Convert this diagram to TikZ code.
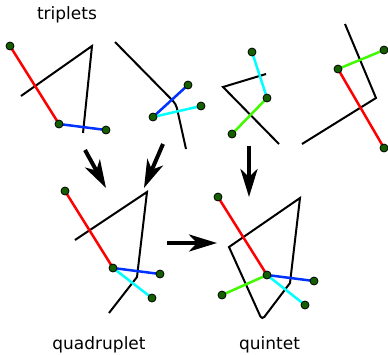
\documentclass[tikz,border=0pt]{standalone}
\usepackage{fontspec}
\setmainfont{DejaVu Sans}
\usetikzlibrary{arrows.meta}
\definecolor{cred}{RGB}{255,0,0}
\definecolor{cblue}{RGB}{0,50,255}
\definecolor{ccyan}{RGB}{0,255,255}
\definecolor{cgreen}{RGB}{64,250,0}
\definecolor{cdot}{RGB}{20,95,0}
\tikzset{
  frame/.style={draw=black, line width=2pt},
  bond/.style={line width=2.5pt},
  dot/.style={circle, draw=black, line width=0.8pt, fill=cdot, minimum size=8pt, inner sep=0pt},
  bigarrow/.style={line width=4pt, -{Stealth[length=28pt,width=17pt,inset=8pt]}},
  lbl/.style={font=\fontsize{17}{20}\selectfont, anchor=base}
}
\begin{document}
\begin{tikzpicture}[x=1pt,y=-1pt]
\useasboundingbox (0,0) rectangle (388,354);
% points
\coordinate (a) at (10,46);
\coordinate (b) at (59,124);
\coordinate (c) at (106,130);
\coordinate (d) at (153,117);
\coordinate (e) at (188,85);
\coordinate (f) at (201,106);
\coordinate (g) at (252,52);
\coordinate (h) at (267,98);
\coordinate (i) at (232,134);
\coordinate (j) at (338,69);
\coordinate (k) at (384,50);
\coordinate (l) at (384,148);
\coordinate (m) at (65,191);
\coordinate (n) at (113,268);
\coordinate (o) at (160,274);
\coordinate (p) at (152,298);
\coordinate (q) at (218,197);
\coordinate (r) at (267,275);
\coordinate (s) at (314,281);
\coordinate (t) at (305,305);
\coordinate (u) at (222,295);
% frames
\draw[frame] (21,96) -- (92,46) -- (83,133);
\draw[frame] (115,42) [rounded corners=4pt] -- (176,104) -- (186,149);
\draw[frame] (266,74) -- (223,87) -- (279,144);
\draw[frame] (345,24) -- (376,98) -- (302,144);
\draw[frame] (75,240) -- (147,192) -- (137,277) [rounded corners=4pt] -- (109,313);
\draw[frame] (229,247) -- (300,198) -- (290,283) [rounded corners=4pt] -- (262,320) [sharp corners] -- cycle;
% bonds
\draw[bond, cred] (a) -- (b);
\draw[bond, cblue] (b) -- (c);
\draw[bond, cblue] (d) -- (e);
\draw[bond, ccyan] (d) -- (f);
\draw[bond, ccyan] (g) -- (h);
\draw[bond, cgreen] (h) -- (i);
\draw[bond, cgreen] (j) -- (k);
\draw[bond, cred] (j) -- (l);
\draw[bond, cred] (m) -- (n);
\draw[bond, cblue] (n) -- (o);
\draw[bond, ccyan] (n) -- (p);
\draw[bond, cred] (q) -- (r);
\draw[bond, cblue] (r) -- (s);
\draw[bond, ccyan] (r) -- (t);
\draw[bond, cgreen] (r) -- (u);
% dots
\foreach \P in {a,b,c,d,e,f,g,h,i,j,k,l,m,n,o,p,q,r,s,t,u}
  \node[dot] (dot\P) at (\P) {};
% arrows
\coordinate (a1s) at (85,150); \coordinate (a1e) at (106,188);
\coordinate (a2s) at (163,144); \coordinate (a2e) at (144,188);
\coordinate (a3s) at (249,146); \coordinate (a3e) at (249,197);
\coordinate (a4s) at (167,243); \coordinate (a4e) at (217,243);
\draw[bigarrow] (a1s) -- (a1e);
\draw[bigarrow] (a2s) -- (a2e);
\draw[bigarrow] (a3s) -- (a3e);
\draw[bigarrow] (a4s) -- (a4e);
% labels
\node[lbl] (l1) at (67,19.5) {triplets};
\node[lbl] (l2) at (99,349) {quadruplet};
\node[lbl] (l3) at (269.5,349) {quintet};
\end{tikzpicture}
\end{document}
